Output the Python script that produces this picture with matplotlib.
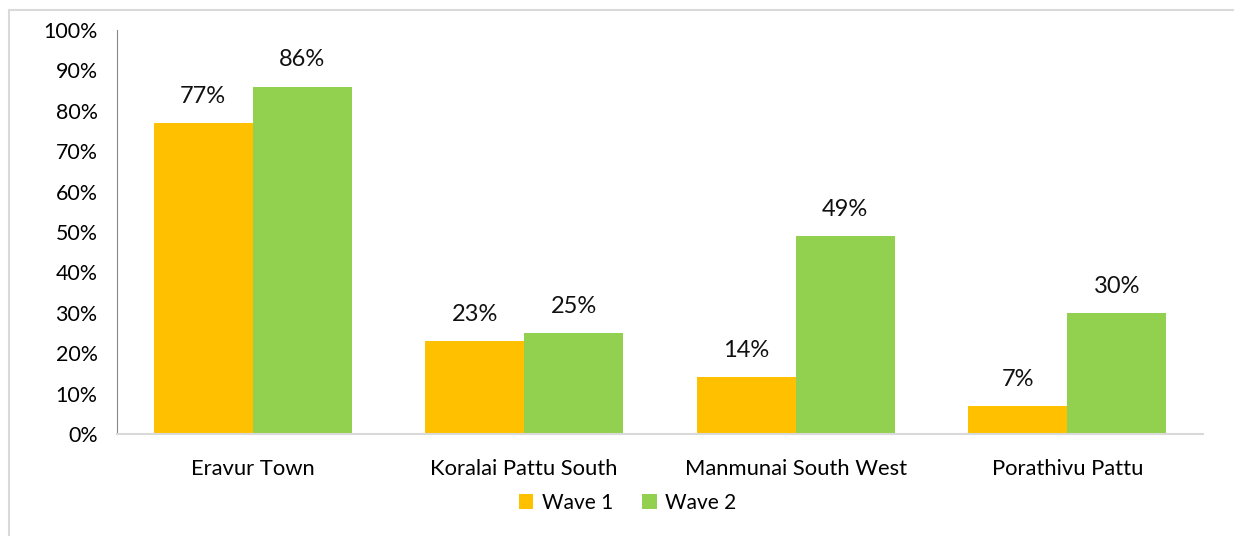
import numpy as np
import matplotlib.pyplot as plt
from matplotlib.patches import Rectangle

districts = ["Eravur Town", "Koralai Pattu South", "Manmunai South West", "Porathivu Pattu"]
wave1 = [77, 23, 14, 7]
wave2 = [86, 25, 49, 30]
y_ticks = [0, 10, 20, 30, 40, 50, 60, 70, 80, 90, 100]

plt.rcParams['font.family'] = ['Lato', 'DejaVu Sans']

fig = plt.figure(figsize=(12.34, 5.36), dpi=100)
# light border around the chart area
fig.patches.append(Rectangle((9 / 1234, -0.1), 1.2, 1.1 - 10.5 / 536, transform=fig.transFigure,
                             fill=False, edgecolor='#d9d9d9', linewidth=1.5))

ax = fig.add_axes([117 / 1234, 1 - 434 / 536, 1086 / 1234, 404 / 536])
x = np.arange(len(districts))
w = 0.365
b1 = ax.bar(x - w / 2, wave1, w, color='#FFC000', label='Wave 1')
b2 = ax.bar(x + w / 2, wave2, w, color='#92D050', label='Wave 2')

for bars, vals in ((b1, wave1), (b2, wave2)):
    for bar, v in zip(bars, vals):
        ax.text(bar.get_x() + bar.get_width() / 2, v + 4.0, f"{v}%", ha='center', va='bottom',
                fontsize=17, color='#111111')

ax.set_xlim(-0.5, len(districts) - 0.5)
ax.set_ylim(0, 100)
ax.set_yticks(y_ticks)
ax.set_yticklabels([f"{t}%" for t in y_ticks], fontsize=15.4)
ax.set_xticks(x)
ax.set_xticklabels(districts, fontsize=15.8)
ax.tick_params(axis='y', length=0, pad=14)
ax.tick_params(axis='x', length=0, pad=18)
for s in ('top', 'right'):
    ax.spines[s].set_visible(False)
ax.spines['left'].set_color('#888888')
ax.spines['bottom'].set_color('#d9d9d9')
ax.spines['bottom'].set_linewidth(1.5)

ax.legend(loc='center', bbox_to_anchor=(0.47, -0.17), ncol=2, frameon=False, fontsize=15,
          handlelength=0.7, handleheight=0.7, handletextpad=0.4, columnspacing=1.4)

fig.savefig('out.png', dpi=100)
